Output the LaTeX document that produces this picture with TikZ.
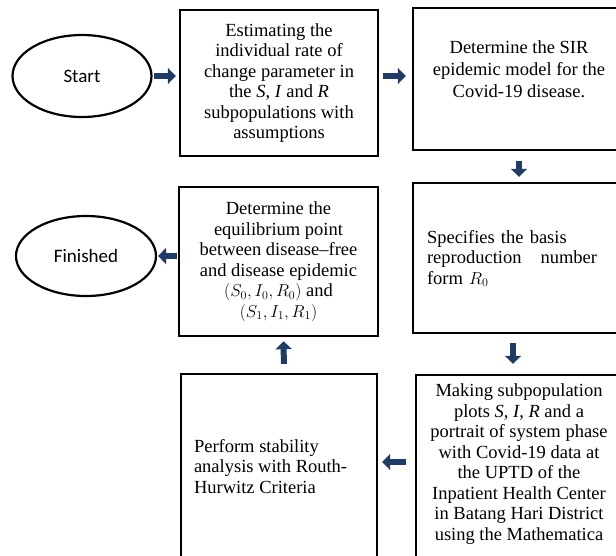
\documentclass[tikz,border=0pt]{standalone}
\usepackage{fontspec}
\setmainfont{LiberationSerif}[Extension=.ttf, UprightFont=*-Regular, ItalicFont=*-Italic, BoldFont=*-Bold, BoldItalicFont=*-BoldItalic]
\newfontfamily\calibri{Carlito}
\usetikzlibrary{arrows.meta,shapes.geometric}
\definecolor{arrownavy}{HTML}{203C62}

\begin{document}
\begin{tikzpicture}[x=1pt, y=-1pt,
		box/.style={draw, line width=2.4pt, inner sep=0pt, align=center, font=\fontsize{18.5}{20.5}\selectfont},
		term/.style={draw, ellipse, line width=2.2pt, font=\calibri\fontsize{19}{22}\selectfont},
		txt/.style={inner sep=0pt, font=\fontsize{18.5}{20.5}\selectfont},
		flow/.style={draw=arrownavy, line width=6pt, -{Triangle[width=16pt,length=8pt]}}]
		
		\clip (0,0) rectangle (616,555);
		
		\node [term, minimum width=139, minimum height=82] (start) at (82,76) {Start};
		\node [term, minimum width=140, minimum height=80] (fin) at (86,256) {Finished};
		
		\node [box, minimum width=198, minimum height=146] (est) at (279,83) {Estimating the\\individual rate of\\change parameter in\\the \textit{S}, \textit{I} and \textit{R}\\subpopulations with\\assumptions};
		\node [box, minimum width=212, minimum height=142] (sir) at (519,79) {};
		\node [txt, align=center, anchor=north, font=\fontsize{18.5}{22}\selectfont] (sirtext) at ([yshift=-34pt]sir.north) {Determine the SIR\\epidemic model for the\\Covid-19 disease.};
		
		\node [box, minimum width=199, minimum height=149] (equil) at (278.5,261.5) {Determine the\\equilibrium point\\between disease--free\\and disease epidemic\\$(S_0, I_0, R_0)$ and\\$(S_1, I_1, R_1)$};
		\node [box, minimum width=212, minimum height=150] (repr) at (519,258) {};
		\node [txt, text width=170pt, align=left, anchor=north west] (reprtext) at ([xshift=15pt,yshift=-48pt]repr.north west) {Specifies the basis\\reproduction\hfill number\\form $R_0$};
		
		\node [box, minimum width=196, minimum height=196] (stab) at (279,472) {};
		\node [txt, align=left, anchor=north west] (stabtext) at ([xshift=14pt,yshift=-66pt]stab.north west) {Perform stability\\analysis with Routh-\\Hurwitz Criteria};
		\node [box, minimum width=206, minimum height=196] (plot) at (519,473) {};
		\node [txt, align=center, anchor=north] (plottext) at ([yshift=-10pt]plot.north) {Making subpopulation\\plots \textit{S}, \textit{I}, \textit{R} and a\\portrait of system phase\\with Covid-19 data at\\the UPTD of the\\Inpatient Health Center\\in Batang Hari District\\using the Mathematica};
		
		\draw [flow, shorten <=1pt, shorten >=3pt] (start.east) -- (start.east -| est.west);
		\draw [flow, shorten <=4pt, shorten >=6pt] (est.east |- start) -- (sir.west |- start);
		\draw [flow, shorten <=10pt, shorten >=5pt] (sir.south) -- (repr.north);
		\draw [flow, shorten <=9pt, shorten >=10pt] ([xshift=-6pt]repr.south) -- ([xshift=-6pt]plot.north);
		\draw [flow, shorten <=9pt, shorten >=4pt] ([yshift=11pt]plot.west) -- ([yshift=11pt]plot.west -| stab.east);
		\draw [flow, shorten <=9pt, shorten >=4pt] ([xshift=5pt]stab.north) -- ([xshift=5pt]equil.south);
		\draw [flow, shorten <=1pt, shorten >=1pt] (equil.west |- fin) -- (fin.east);
		
	\end{tikzpicture}
\end{document}
